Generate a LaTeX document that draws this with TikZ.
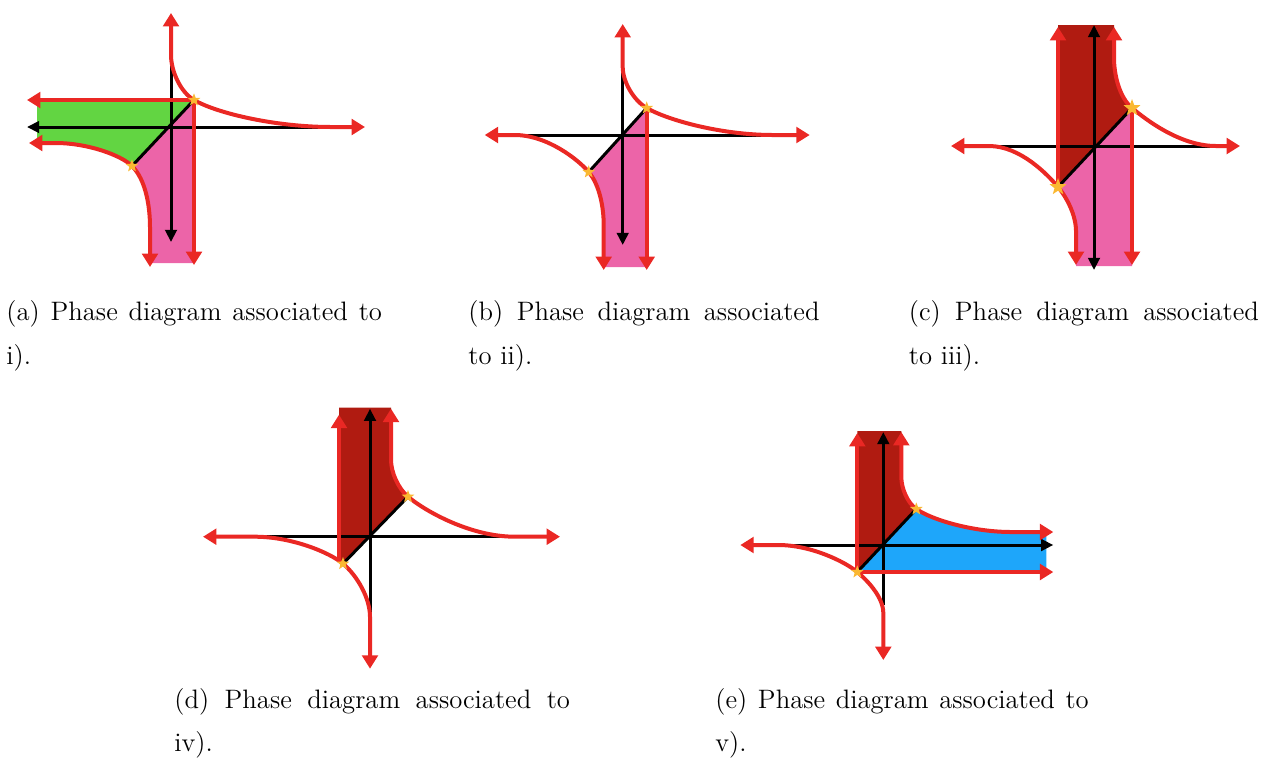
\documentclass[tikz,border=0pt]{standalone}
\usepackage{tikz}
\usetikzlibrary{arrows.meta, shapes.geometric}
\definecolor{CurveRed}{RGB}{234,40,36}
\definecolor{DarkFill}{RGB}{176,27,17}
\definecolor{PinkFill}{RGB}{236,100,168}
\definecolor{GreenFill}{RGB}{98,213,66}
\definecolor{BlueFill}{RGB}{30,166,250}
\definecolor{StarGold}{RGB}{250,184,50}
\newcommand{\fixpt}[3]{% name, position, size
    \node[fixstar, minimum size=#3] (#1) at (#2) {};
}

\begin{document}
\begin{tikzpicture}[
    x=0.45pt, y=0.45pt,
    redarr/.style={line width=1.8pt, draw=CurveRed,
        {Triangle[length=6pt, width=7pt]}-{Triangle[length=6pt, width=7pt]}},
    redend/.style={line width=1.8pt, draw=CurveRed, -{Triangle[length=6pt, width=7pt]}},
    axisln/.style={line width=1.35pt, draw=black},
    axend/.style={axisln, -{Triangle[length=5.5pt, width=5.2pt]}},
    kneeseg/.style={looseness=0.8},
    tailout/.style={out looseness=0.5, in looseness=1},
    tailin/.style={out looseness=1, in looseness=0.5},
    fixstar/.style={star, star points=5, star point ratio=2.4, fill=StarGold, inner sep=0pt},
    capt/.style={font=\fontsize{12}{14}\selectfont, anchor=base west, inner sep=0pt}
]
\useasboundingbox (0,0) rectangle (1263,-768);

% ===================================================================
% (a) top left
% ===================================================================
\begin{scope}[shift={(171,-127)}]
    \coordinate (aT) at (0,114);
    \coordinate (aV) at (0,72);
    \coordinate (aS1) at (23,27);
    \coordinate (aH) at (160,0);
    \coordinate (aR) at (194,0);
    \coordinate (aL) at (-142,-16);
    \coordinate (aHl) at (-115,-16);
    \coordinate (aS2) at (-39,-39);
    \coordinate (aVb) at (-21,-100);
    \coordinate (aB) at (-21,-140);
    % regions
    \fill[GreenFill] (-134,27) -- (aS1) -- (aS2) to[tailout,out=135,in=0] (aHl)
        -- (-134,-16) -- cycle;
    \fill[PinkFill] (aS1) -- (aS2) to[kneeseg,out=-45,in=90] (aVb) -- (-21,-136)
        -- (23,-136) -- cycle;
    % axes
    \draw[axisln] (150,0) -- (0,0);
    \draw[axend] (0,0) -- (-144,0);
    \draw[axend] (aV) -- (0,-115);
    \draw[axisln] (aS2) -- (aS1);
    % curves
    \draw[redarr] (aT) -- (aV) to[kneeseg,out=-90,in=150] (aS1)
        to[tailout,out=-30,in=180] (aH) -- (aR);
    \draw[redarr] (aL) -- (aHl) to[tailin,out=0,in=135] (aS2)
        to[kneeseg,out=-45,in=90] (aVb) -- (aB);
    \draw[redarr] (-144,27) -- (aS1) -- (23,-138);
    \fixpt{aP1}{aS1}{6pt}
    \fixpt{aP2}{aS2}{6pt}
\end{scope}

% ===================================================================
% (b) top middle
% ===================================================================
\begin{scope}[shift={(622.7,-135)}]
    \coordinate (bT) at (0,111);
    \coordinate (bV) at (0,68);
    \coordinate (bS1) at (24,27);
    \coordinate (bH) at (150,0);
    \coordinate (bR) at (187,0);
    \coordinate (bL) at (-138,0);
    \coordinate (bHl) at (-108,0);
    \coordinate (bS2) at (-34,-37);
    \coordinate (bVb) at (-19,-90);
    \coordinate (bB) at (-19,-135);
    % region
    \fill[PinkFill] (bS1) -- (bS2) to[kneeseg,out=-50,in=90] (bVb) -- (-19,-132)
        -- (24,-132) -- cycle;
    % axes
    \draw[axisln] (-128,0) -- (150,0);
    \draw[axend] (bV) -- (0,-110);
    \draw[axisln] (bS2) -- (bS1);
    % curves
    \draw[redarr] (bT) -- (bV) to[kneeseg,out=-90,in=150] (bS1)
        to[tailout,out=-30,in=180] (bH) -- (bR);
    \draw[redarr] (bL) -- (bHl) to[tailin,out=0,in=130] (bS2)
        to[kneeseg,out=-50,in=90] (bVb) -- (bB);
    \draw[redend] (bS1) -- (24,-135);
    \fixpt{bP1}{bS1}{6pt}
    \fixpt{bP2}{bS2}{6pt}
\end{scope}

% ===================================================================
% (c) top right
% ===================================================================
\begin{scope}[shift={(1094,-146)}]
    \coordinate (cT) at (20,119);
    \coordinate (cV) at (20,88);
    \coordinate (cS1) at (38,38);
    \coordinate (cH) at (122,0);
    \coordinate (cR) at (146,0);
    \coordinate (cL) at (-143,0);
    \coordinate (cHl) at (-105,0);
    \coordinate (cS2) at (-36,-41);
    \coordinate (cVb) at (-18,-85);
    \coordinate (cB) at (-18,-119);
    % regions
    \fill[DarkFill] (cS2) -- (-36,121) -- (20,121) -- (cV)
        to[kneeseg,out=-90,in=140] (cS1) -- cycle;
    \fill[PinkFill] (cS2) -- (cS1) -- (38,-120) -- (-18,-120) -- (cVb)
        to[kneeseg,out=90,in=-50] (cS2) -- cycle;
    % axes
    \draw[axisln] (-110,0) -- (125,0);
    \draw[axend] (0,0) -- (0,121);
    \draw[axend] (0,0) -- (0,-124);
    \draw[axisln] (cS2) -- (cS1);
    % curves
    \draw[redarr] (cT) -- (cV) to[kneeseg,out=-90,in=140] (cS1)
        to[tailout,out=-40,in=180] (cH) -- (cR);
    \draw[redarr] (cL) -- (cHl) to[tailin,out=0,in=130] (cS2)
        to[kneeseg,out=-50,in=90] (cVb) -- (cB);
    \draw[redend] (cS2) -- (-36,119);
    \draw[redend] (cS1) -- (38,-119);
    \fixpt{cP1}{cS1}{8pt}
    \fixpt{cP2}{cS2}{8pt}
\end{scope}

% ===================================================================
% (d) bottom left
% ===================================================================
\begin{scope}[shift={(370,-536.7)}]
    \coordinate (dT) at (21,128);
    \coordinate (dV) at (21,77);
    \coordinate (dS1) at (38,40);
    \coordinate (dH) at (145,0);
    \coordinate (dR) at (190,0);
    \coordinate (dL) at (-167,0);
    \coordinate (dHl) at (-115,0);
    \coordinate (dS2) at (-27,-27);
    \coordinate (dVb) at (0,-80);
    \coordinate (dB) at (0,-132);
    % region
    \fill[DarkFill] (dS2) -- (-31,-23) -- (-31,129) -- (21,129) -- (dV)
        to[kneeseg,out=-90,in=140] (dS1) -- cycle;
    % axes
    \draw[axisln] (-160,0) -- (180,0);
    \draw[axend] (0,-77) -- (0,128);
    \draw[axisln] (dS2) -- (dS1);
    % curves
    \draw[redarr] (dT) -- (dV) to[kneeseg,out=-90,in=140] (dS1)
        to[tailout,out=-40,in=180] (dH) -- (dR);
    \draw[redarr] (dL) -- (dHl) to[tailin,out=0,in=140] (dS2)
        to[kneeseg,out=-40,in=90] (dVb) -- (dB);
    \draw[redend] (-31,-23) -- (-31,122);
    \fixpt{dP1}{dS1}{6pt}
    \fixpt{dP2}{dS2}{6pt}
\end{scope}

% ===================================================================
% (e) bottom right
% ===================================================================
\begin{scope}[shift={(883.3,-545)}]
    \coordinate (eT) at (18,113);
    \coordinate (eV) at (18,68);
    \coordinate (eS1) at (33,36);
    \coordinate (eH) at (128,13);
    \coordinate (eR) at (170,13);
    \coordinate (eL) at (-143,0);
    \coordinate (eHl) at (-105,0);
    \coordinate (eS2) at (-26,-27);
    \coordinate (eVb) at (0,-68);
    \coordinate (eB) at (0,-115);
    % regions
    \fill[DarkFill] (eS2) -- (-26,114) -- (18,114) -- (eV)
        to[kneeseg,out=-90,in=145] (eS1) -- cycle;
    \fill[BlueFill] (eS2) -- (eS1) to[tailout,out=-35,in=180] (eH)
        -- (163,13) -- (163,-27) -- cycle;
    % axes
    \draw[axisln] (-100,0) -- (0,0);
    \draw[axend] (0,0) -- (170,0);
    \draw[axend] (0,-60) -- (0,113);
    \draw[axisln] (eS2) -- (eS1);
    % curves
    \draw[redarr] (eT) -- (eV) to[kneeseg,out=-90,in=145] (eS1)
        to[tailout,out=-35,in=180] (eH) -- (eR);
    \draw[redarr] (eL) -- (eHl) to[tailin,out=0,in=140] (eS2)
        to[kneeseg,out=-40,in=90] (eVb) -- (eB);
    \draw[redarr] (-26,112) -- (eS2) -- (170,-27);
    \fixpt{eP1}{eS1}{6pt}
    \fixpt{eP2}{eS2}{6pt}
\end{scope}

% ===================================================================
% captions
% ===================================================================
\node[capt] (capa1) at (6,-320.5) {\makebox[169pt][s]{(a) Phase diagram associated to}};
\node[capt] (capa2) at (6,-364) {i).};
\node[capt] (capb1) at (468,-320.5) {\makebox[158pt][s]{(b) Phase diagram associated}};
\node[capt] (capb2) at (468,-364) {to ii).};
\node[capt] (capc1) at (908.5,-320.5) {\makebox[157.5pt][s]{(c) Phase diagram associated}};
\node[capt] (capc2) at (908.5,-364) {to iii).};
\node[capt] (capd1) at (174,-708) {\makebox[178pt][s]{(d) Phase diagram associated to}};
\node[capt] (capd2) at (174,-751.5) {iv).};
\node[capt] (cape1) at (715,-708) {\makebox[168pt][s]{(e) Phase diagram associated to}};
\node[capt] (cape2) at (715,-751.5) {v).};

\end{tikzpicture}
\end{document}
